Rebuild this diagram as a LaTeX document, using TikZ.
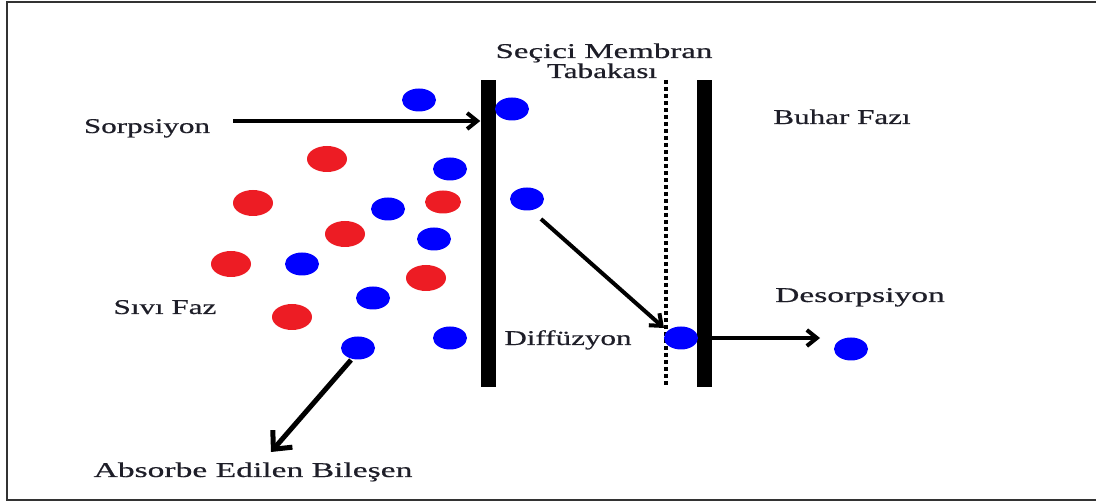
\documentclass[tikz,border=0pt]{standalone}
\usepackage{fontspec}
\setmainfont{Liberation Serif}[FakeStretch=1.48,FakeBold=0.6]
\usetikzlibrary{arrows.meta,shapes.geometric}

\definecolor{ballblue}{HTML}{0000FF}
\definecolor{ballred}{HTML}{ED1C24}
\definecolor{framegray}{HTML}{333333}
\definecolor{inkdark}{HTML}{1E1E28}

\tikzset{
  lbl/.style={font=\fontsize{21}{23}\selectfont, text=inkdark, inner sep=0pt, anchor=base},
  blueball/.style={shape=ellipse, fill=ballblue, inner sep=0pt,
                   minimum width=34pt, minimum height=23pt},
  redball/.style={shape=ellipse, fill=ballred, inner sep=0pt,
                  minimum width=40pt, minimum height=26pt},
  wall/.style={fill=black, inner sep=0pt, minimum width=15pt, minimum height=307pt},
  flow/.style={line width=4pt, -{Straight Barb[length=10pt,width=16pt]}},
}

\begin{document}
\begin{tikzpicture}[x=1pt,y=-1pt]
\useasboundingbox (0,0) rectangle (1096,502);

% outer frame (open on the right)
\draw[framegray, line width=2pt] (1100,2) -- (7,2) -- (7,500) -- (1100,500);

% membrane walls and the dotted inner boundary
\node[wall] (wallL) at (488,233.5) {};
\node[wall] (wallR) at (704,233.5) {};
\coordinate (dotTop) at (666,80);
\coordinate (dotBot) at (666,387);
\draw[line width=3.5pt, dash pattern=on 4pt off 3pt] (dotTop) -- (dotBot);

% liquid phase: red molecules
\node[redball] (r1) at (327,159) {};
\node[redball] (r2) at (253,203) {};
\node[redball] (r3) at (345,234) {};
\node[redball, minimum width=36pt, minimum height=23pt] (r4) at (443,202) {};
\node[redball] (r5) at (231,264) {};
\node[redball] (r6) at (426,278) {};
\node[redball] (r7) at (292,317) {};

% blue molecules
\node[blueball] (b1) at (419,100) {};
\node[blueball] (b2) at (512,109) {};
\node[blueball] (b3) at (450,169) {};
\node[blueball] (b4) at (388,209) {};
\node[blueball] (b5) at (434,239) {};
\node[blueball] (b6) at (302,264) {};
\node[blueball] (b7) at (373,298) {};
\node[blueball] (b8) at (450,338) {};
\node[blueball] (b9) at (358,348) {};
\node[blueball] (b10) at (527,199) {};
\node[blueball] (b11) at (681,338) {};
\node[blueball] (b12) at (851,349) {};

% labels
\node[lbl] (sorp) at (147,133) {Sorpsiyon};
\node[lbl, xscale=1.06] (memb1) at (604,58) {Seçici Membran};
\node[lbl] (memb2) at (602,78) {Tabakası};
\node[lbl] (buhar) at (842,124) {Buhar Fazı};
\node[lbl] (sivi) at (165,314) {Sıvı Faz};
\node[lbl] (diff) at (568,345) {Diffüzyon};
\node[lbl, xscale=1.08] (desorp) at (860,302) {Desorpsiyon};
\node[lbl, xscale=1.08] (absorb) at (253,477) {Absorbe Edilen Bileşen};

% transport arrows
\coordinate (sorpStart) at (233,121);
\coordinate (diffStart) at (541,219);
\coordinate (diffEnd) at (664,328);
\coordinate (desEnd) at (820,338);
\coordinate (absStart) at (351,360);
\coordinate (absEnd) at (271,452);
\draw[flow] (sorpStart) -- (sorpStart -| wallL.west);
\draw[flow] (diffStart) -- (diffEnd);
\draw[flow] (wallR.east |- desEnd) -- (desEnd);
\draw[flow, line width=5pt, -{Straight Barb[length=14pt,width=26pt]}] (absStart) -- (absEnd);
\end{tikzpicture}
\end{document}
